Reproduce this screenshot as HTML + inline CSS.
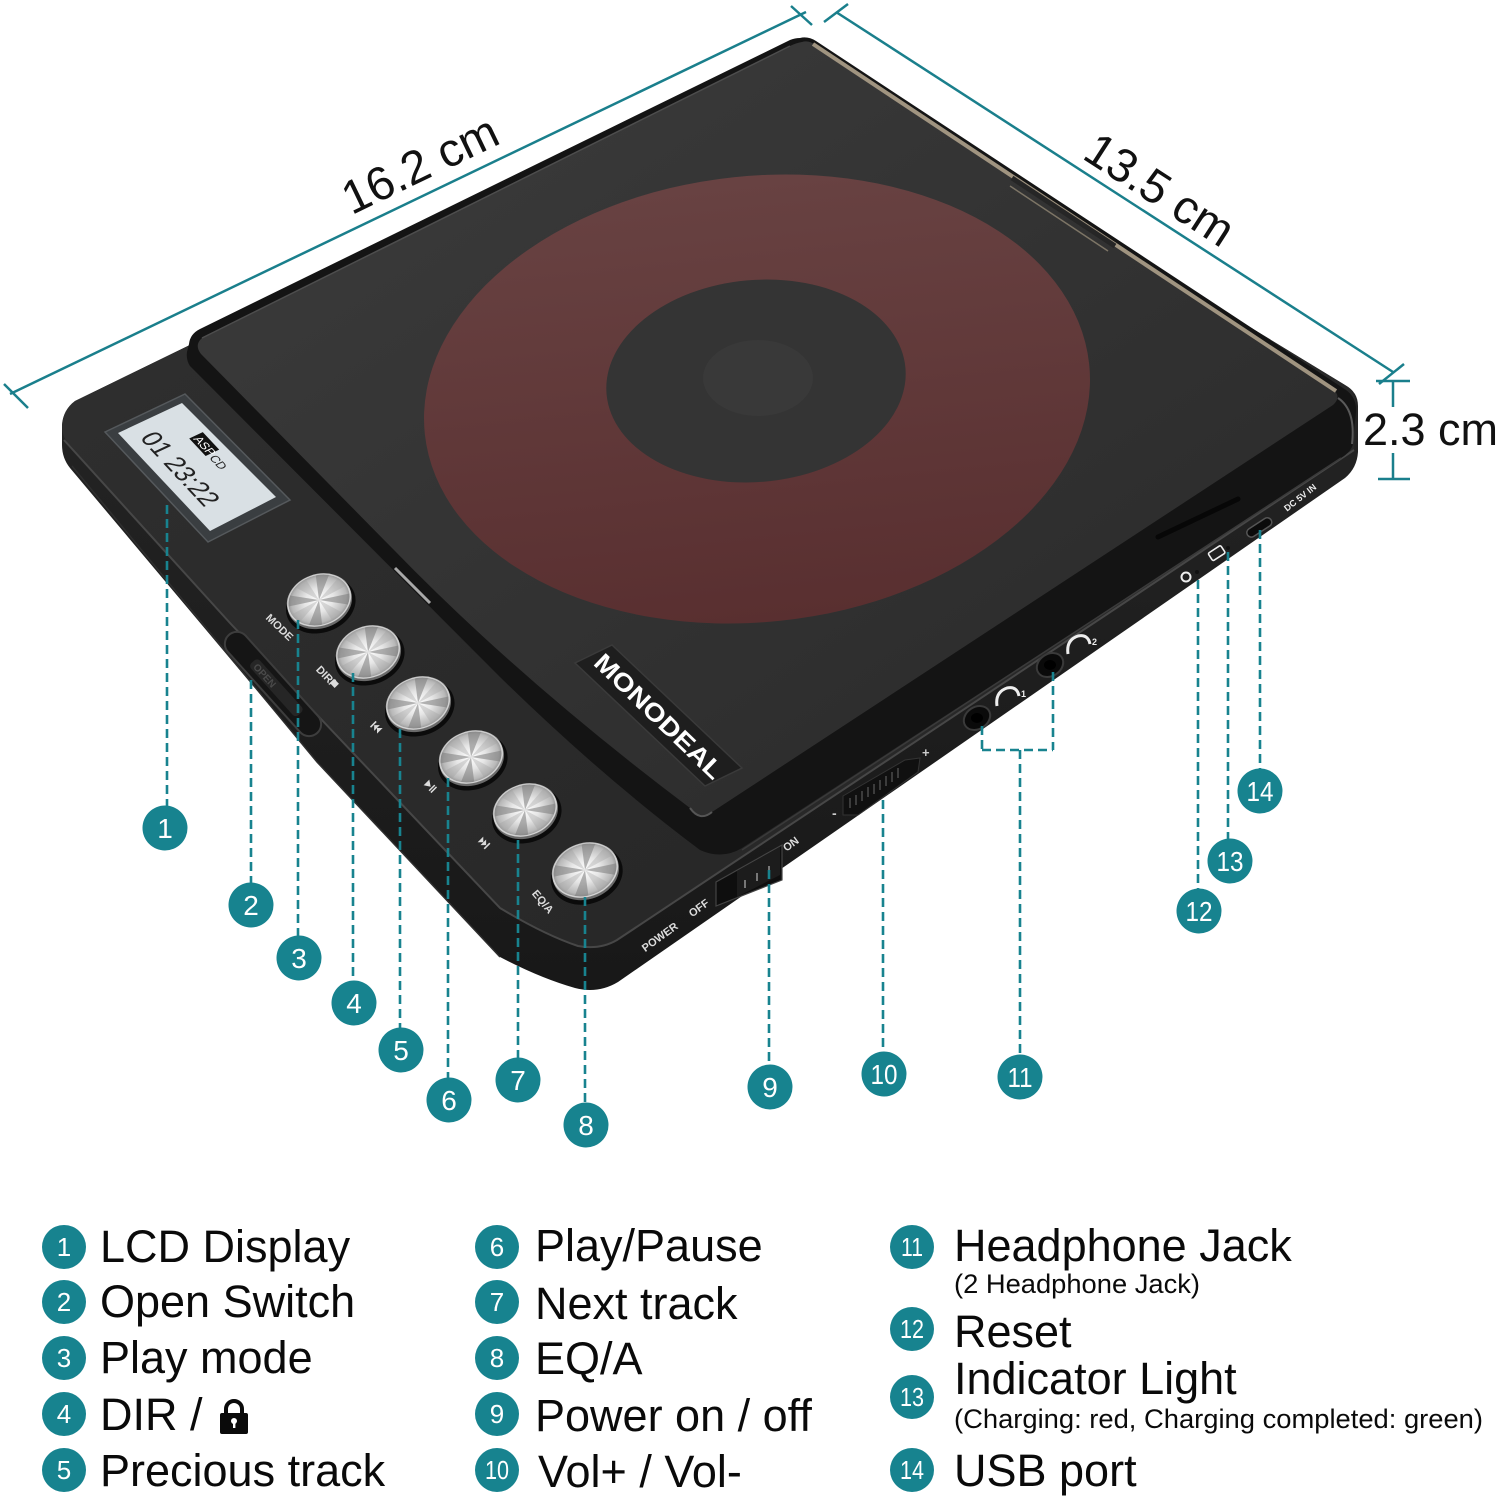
<!DOCTYPE html>
<html><head><meta charset="utf-8"><title>CD player diagram</title>
<style>
html,body{margin:0;padding:0;background:#fff;}
body{width:1500px;height:1496px;position:relative;overflow:hidden;}
svg{position:absolute;left:0;top:0;display:block}
</style></head><body>
<svg width="1500" height="1496" viewBox="0 0 1500 1496" xmlns="http://www.w3.org/2000/svg" font-family="'Liberation Sans', Arial, sans-serif">
<defs>
 <linearGradient id="lidG" x1="0" y1="0" x2="1" y2="1">
  <stop offset="0" stop-color="#3c3c3c"/><stop offset="1" stop-color="#292929"/>
 </linearGradient>
 <linearGradient id="ringG" x1="0" y1="0" x2="0" y2="1">
  <stop offset="0" stop-color="#684242"/><stop offset="1" stop-color="#592f30"/>
 </linearGradient>
 <linearGradient id="baseTop" x1="0" y1="0" x2="1" y2="1">
  <stop offset="0" stop-color="#303030"/><stop offset="1" stop-color="#252525"/>
 </linearGradient>
 <linearGradient id="baseSide" x1="0" y1="0" x2="0" y2="1">
  <stop offset="0" stop-color="#2a2a2a"/><stop offset="1" stop-color="#181818"/>
 </linearGradient>
 <radialGradient id="bface" cx="0" cy="0" r="1" gradientUnits="userSpaceOnUse">
  <stop offset="0" stop-color="#ffffff"/><stop offset=".45" stop-color="#e6e6e6"/><stop offset=".85" stop-color="#b8b8b8"/><stop offset="1" stop-color="#8c8c8c"/>
 </radialGradient>
 <g id="btn">
  <ellipse cx="0" cy="0.2" rx="1.08" ry="1.06" fill="#0b0b0b"/>
  <ellipse cx="0" cy="0.09" rx="1" ry="1" fill="#6a6a6a"/>
  <circle r="0.97" fill="url(#bface)"/>
  <path d="M0 0L.936 .165A.95 .95 0 0 1 .778 .545Z M0 0L-.165 .936A.95 .95 0 0 1 -.545 .778Z M0 0L-.936 -.165A.95 .95 0 0 1 -.778 -.545Z M0 0L.165 -.936A.95 .95 0 0 1 .545 -.778Z" fill="#7a7a7a" opacity=".55"/>
  <path d="M0 0L.545 .778A.95 .95 0 0 1 .165 .936Z M0 0L-.778 .545A.95 .95 0 0 1 -.936 .165Z M0 0L-.545 -.778A.95 .95 0 0 1 -.165 -.936Z M0 0L.778 -.545A.95 .95 0 0 1 .936 -.165Z" fill="#a0a0a0" opacity=".35"/>
  <circle r="0.97" fill="none" stroke="#f4f4f4" stroke-width="0.05" opacity=".7"/>
 </g>
</defs>

<rect width="1500" height="1496" fill="#ffffff"/>

<!-- ===== Dimension lines ===== -->
<g stroke="#1a7f8c" stroke-width="2.5" fill="none" stroke-linecap="butt">
 <line x1="10" y1="394" x2="806" y2="12"/>
 <line x1="4" y1="384" x2="28" y2="408"/>
 <line x1="791" y1="6" x2="812" y2="25"/>
 <line x1="836" y1="12" x2="1393" y2="372"/>
 <line x1="824" y1="22" x2="848" y2="4"/>
 <line x1="1379" y1="384" x2="1404" y2="364"/>
 <line x1="1376" y1="381" x2="1410" y2="381"/>
 <line x1="1393" y1="381" x2="1393" y2="407"/>
 <line x1="1393" y1="453" x2="1393" y2="479"/>
 <line x1="1378" y1="479" x2="1410" y2="479"/>
</g>
<text transform="translate(427,179) rotate(-25.7)" text-anchor="middle" font-size="47" fill="#111">16.2 cm</text>
<text transform="translate(1151,203) rotate(32.9)" text-anchor="middle" font-size="47" fill="#111">13.5 cm</text>
<text x="1363" y="445" font-size="45" fill="#111">2.3 cm</text>

<!-- ===== Device base ===== -->
<path d="M75,401 L795,50 L1345,385 Q1358,392 1358,406 L1358,452 Q1357,468 1345,478 L618,982 Q598,994 575,988 Q540,978 500,957 L317,762 L70,468 Q62,458 62,445 L62,425 Q63,410 75,401 Z" fill="url(#baseSide)"/>
<path d="M75,401 L795,50 L1345,385 Q1356,392 1356,406 L1354,450 L617,940 Q597,952 575,946 Q540,930 500,908 L230,623 L66,441 Q62,434 62,426 Q63,410 75,401 Z" fill="url(#baseTop)"/>
<path d="M64,440 L230,623 L500,908 Q545,935 578,946 Q600,950 617,940 L1354,450" fill="none" stroke="#474747" stroke-width="2"/>
<path d="M72,466 L317,762 L500,957" fill="none" stroke="#2e2e2e" stroke-width="1.5"/>

<!-- LCD -->
<polygon points="105,432 185,394 290,500 208,542" fill="#3a3e41" stroke="#55595c" stroke-width="1.5"/>
<polygon points="118,433 182,403 276,497 210,531" fill="#d9e0e4"/>
<g transform="matrix(0.684,0.729,-0.905,0.424,182,403)">
 <rect x="37" y="5" width="24" height="15" fill="#111"/>
 <text x="39" y="17.5" font-size="12" fill="#fff">ASP</text>
 <text x="64" y="19" font-size="12" fill="#222">CD</text>
 <text x="14" y="58" font-size="27" fill="#222" textLength="96" lengthAdjust="spacingAndGlyphs">01 23:22</text>
</g>

<!-- Open switch -->
<g transform="translate(273,684) rotate(48)">
 <rect x="-66" y="-12" width="132" height="24" rx="12" fill="#151515" stroke="#3d3d3d" stroke-width="2"/>
 <rect x="-30" y="-6" width="70" height="12" rx="4" fill="#262626"/>
 <text x="-26" y="4" font-size="10" font-weight="bold" fill="#4a4a4a">OPEN</text>
</g>

<!-- ===== Lid ===== -->
<path d="M800,38 Q808,36 816,41 L1346,390 Q1357,398 1356,412 L1353,444 Q1351,452 1341,458 L742,848 Q722,860 700,850 Q600,775 500,677 L190,366 Q186,360 187,352 L189,344 Q190,334 200,329 L790,40 Q795,38 800,38 Z" fill="#141414"/>
<path d="M802,42 Q809,40 815,45 L1333,389 Q1342,397 1333,405 L712,812 Q700,820 690,808 Q520,680 393,549 L201,354 Q194,345 202,338 L790,46 Q796,43 802,42 Z" fill="url(#lidG)"/>
<!-- lid edge highlights -->
<path d="M813,44 L1336,391" stroke="#a09480" stroke-width="4" fill="none"/>
<path d="M1012,178 L1115,246" stroke="#262626" stroke-width="5" fill="none"/>
<path d="M1010,186 L1108,251" stroke="#7d7566" stroke-width="1.5" fill="none"/>
<path d="M202,338 L790,46" stroke="#4d4d4d" stroke-width="1.5" fill="none"/>
<path d="M1338,398 Q1356,410 1352,444" stroke="#5a5a5a" stroke-width="2" fill="none"/>
<path d="M742,850 L1341,458" stroke="#3a3a3a" stroke-width="1.5" fill="none"/>
<path d="M690,808 Q700,822 712,812" stroke="#555" stroke-width="2" fill="none"/>
<path d="M395,568 L430,603" stroke="#a8a8a8" stroke-width="3" fill="none"/>
<path d="M1158,537 L1238,499" stroke="#070707" stroke-width="5" fill="none" stroke-linecap="round"/>

<!-- Disc ring -->
<ellipse cx="757" cy="399" rx="334" ry="223" fill="url(#ringG)" transform="rotate(-6 757 399)"/>
<ellipse cx="756" cy="381" rx="150" ry="101" fill="#343434" transform="rotate(-5 756 381)"/>
<ellipse cx="758" cy="378" rx="55" ry="38" fill="#393939"/>

<!-- MONODEAL logo -->
<polygon points="575,663 612,645 742,768 705,786" fill="#1e1e1e" stroke="#3a3a3a" stroke-width="1.5"/>
<text transform="translate(659,716) rotate(44)" x="0" y="9" text-anchor="middle" font-size="25" font-weight="bold" fill="#fff" textLength="168" lengthAdjust="spacingAndGlyphs">MONODEAL</text>

<!-- Buttons -->
<use href="#btn" transform="translate(319,600) rotate(-20) scale(33,26)"/>
<use href="#btn" transform="translate(368,652) rotate(-20) scale(33,26)"/>
<use href="#btn" transform="translate(418,703) rotate(-20) scale(33,26)"/>
<use href="#btn" transform="translate(471,757) rotate(-20) scale(33,26)"/>
<use href="#btn" transform="translate(525,810) rotate(-20) scale(33,26)"/>
<use href="#btn" transform="translate(585,870) rotate(-20) scale(34,27)"/>

<!-- Button labels -->
<g font-size="11" font-weight="bold" fill="#dcdcdc" text-anchor="middle">
 <text transform="translate(277,630) rotate(44)">MODE</text>
 <text transform="translate(323,678) rotate(46)">DIR/</text>
 <rect x="331" y="680" width="7" height="6" fill="#dcdcdc" transform="rotate(46 334 683)"/>
 <text transform="translate(540,904) rotate(50)">EQ/A</text>
 <text transform="translate(662,940) rotate(-36)">POWER</text>
 <text transform="translate(701,911) rotate(-36)">OFF</text>
 <text transform="translate(793,847) rotate(-36)">ON</text>
</g>
<g fill="#dcdcdc">
 <g transform="translate(377,728) rotate(45)">
  <rect x="-6" y="-4" width="1.6" height="8"/><polygon points="-4,0 0,-4 0,4"/><polygon points="0,0 4,-4 4,4"/>
 </g>
 <g transform="translate(430,786) rotate(45)">
  <polygon points="-5,-4 -5,4 1,0"/><rect x="2" y="-4" width="1.5" height="8"/><rect x="4.5" y="-4" width="1.5" height="8"/>
 </g>
 <g transform="translate(484,843) rotate(45)">
  <polygon points="-5,-4 -1,0 -5,4"/><polygon points="-1,-4 3,0 -1,4"/><rect x="3.5" y="-4" width="1.6" height="8"/>
 </g>
</g>

<!-- Power switch -->
<polygon points="716,882 782,845 782,880 716,906" fill="#0e0e0e" stroke="#444" stroke-width="1.2"/>
<polygon points="737,871 780,847 780,875 737,897" fill="#1c1c1c"/>
<g stroke="#777" stroke-width="2" fill="none">
 <path d="M745,880 v8"/><path d="M757,873 v8"/><path d="M769,866 v8"/>
</g>

<!-- Volume wheel -->
<polygon points="843,796 905,760 920,758 918,772 858,815 843,815" fill="#101010" stroke="#333" stroke-width="1"/>
<g stroke="#4a4a4a" stroke-width="1.5">
 <path d="M850,808 v-10"/><path d="M856,805 v-10"/><path d="M862,801 v-10"/><path d="M868,797 v-10"/><path d="M874,794 v-10"/><path d="M880,790 v-10"/><path d="M886,786 v-10"/><path d="M892,782 v-10"/><path d="M898,778 v-10"/>
</g>
<text x="832" y="818" font-size="14" font-weight="bold" fill="#ccc">-</text>
<text x="922" y="757" font-size="13" font-weight="bold" fill="#ccc">+</text>

<!-- Headphone jacks -->
<ellipse cx="977" cy="718" rx="14" ry="11" fill="#0a0a0a" stroke="#3a3a3a" stroke-width="2" transform="rotate(-33 977 718)"/>
<ellipse cx="977" cy="718" rx="6" ry="5" fill="#000"/>
<ellipse cx="1050" cy="665" rx="14" ry="11" fill="#0a0a0a" stroke="#3a3a3a" stroke-width="2" transform="rotate(-33 1050 665)"/>
<ellipse cx="1050" cy="665" rx="6" ry="5" fill="#000"/>
<g stroke="#eee" stroke-width="3" fill="none">
 <path d="M997,706 q-2,-14 10,-18 q10,-2 12,8" />
 <path d="M1068,654 q-2,-14 10,-18 q10,-2 12,8" />
</g>
<text x="1021" y="697" font-size="9" fill="#eee" font-weight="bold">1</text>
<text x="1092" y="645" font-size="9" fill="#eee" font-weight="bold">2</text>

<!-- Reset / indicator / USB / DC -->
<circle cx="1186" cy="577" r="4.5" fill="none" stroke="#eee" stroke-width="2"/>
<circle cx="1197" cy="572" r="2" fill="#111"/>
<rect x="1209" y="549" width="15" height="9" rx="1.5" fill="none" stroke="#eee" stroke-width="1.6" transform="rotate(-33 1216 553)"/>
<circle cx="1228" cy="548" r="2" fill="#111"/>
<rect x="1245" y="523" width="28" height="9" rx="4.5" fill="#0b0b0b" stroke="#555" stroke-width="1.5" transform="rotate(-33 1259 527)"/>
<text transform="translate(1302,500) rotate(-38)" text-anchor="middle" font-size="9" font-weight="bold" fill="#eee">DC 5V IN</text>

<!-- ===== Callout dashed lines ===== -->
<g stroke="#18838f" stroke-width="2.6" stroke-dasharray="9 5" fill="none">
 <line x1="167" y1="505" x2="167" y2="806"/>
 <line x1="251" y1="680" x2="251" y2="883"/>
 <line x1="298" y1="620" x2="298" y2="936"/>
 <line x1="353" y1="673" x2="353" y2="981"/>
 <line x1="400" y1="729" x2="400" y2="1028"/>
 <line x1="448" y1="778" x2="448" y2="1078"/>
 <line x1="518" y1="840" x2="518" y2="1058"/>
 <line x1="585" y1="897" x2="585" y2="1103"/>
 <line x1="769" y1="870" x2="769" y2="1065"/>
 <line x1="883" y1="800" x2="883" y2="1052"/>
 <line x1="982" y1="726" x2="982" y2="750"/>
 <line x1="1053" y1="672" x2="1053" y2="750"/>
 <line x1="982" y1="750" x2="1053" y2="750"/>
 <line x1="1020" y1="750" x2="1020" y2="1055"/>
 <line x1="1198" y1="580" x2="1198" y2="889"/>
 <line x1="1228" y1="552" x2="1228" y2="839"/>
 <line x1="1260" y1="530" x2="1260" y2="769"/>
</g>

<!-- ===== Callout circles ===== -->
<g fill="#17838f">
 <circle cx="165" cy="828" r="22.5"/>
 <circle cx="251" cy="905" r="22.5"/>
 <circle cx="299" cy="958" r="22.5"/>
 <circle cx="354" cy="1003" r="22.5"/>
 <circle cx="401" cy="1050" r="22.5"/>
 <circle cx="449" cy="1100" r="22.5"/>
 <circle cx="518" cy="1080" r="22.5"/>
 <circle cx="586" cy="1125" r="22.5"/>
 <circle cx="770" cy="1087" r="22.5"/>
 <circle cx="884" cy="1074" r="22.5"/>
 <circle cx="1020" cy="1077" r="22.5"/>
 <circle cx="1199" cy="911" r="22.5"/>
 <circle cx="1230" cy="861" r="22.5"/>
 <circle cx="1260" cy="791" r="22.5"/>
</g>
<g fill="#ffffff" font-size="28" text-anchor="middle">
 <text x="165" y="838">1</text>
 <text x="251" y="915">2</text>
 <text x="299" y="968">3</text>
 <text x="354" y="1013">4</text>
 <text x="401" y="1060">5</text>
 <text x="449" y="1110">6</text>
 <text x="518" y="1090">7</text>
 <text x="586" y="1135">8</text>
 <text x="770" y="1097">9</text>
 <text x="884" y="1084" textLength="27" lengthAdjust="spacingAndGlyphs">10</text>
 <text x="1020" y="1087" textLength="25" lengthAdjust="spacingAndGlyphs">11</text>
 <text x="1199" y="921" textLength="27" lengthAdjust="spacingAndGlyphs">12</text>
 <text x="1230" y="871" textLength="27" lengthAdjust="spacingAndGlyphs">13</text>
 <text x="1260" y="801" textLength="27" lengthAdjust="spacingAndGlyphs">14</text>
</g>

<!-- ===== Legend ===== -->
<g fill="#17838f">
 <circle cx="64" cy="1247" r="22"/><circle cx="64" cy="1302" r="22"/><circle cx="64" cy="1358" r="22"/><circle cx="64" cy="1414" r="22"/><circle cx="64" cy="1470" r="22"/>
 <circle cx="497" cy="1247" r="22"/><circle cx="497" cy="1302" r="22"/><circle cx="497" cy="1358" r="22"/><circle cx="497" cy="1414" r="22"/><circle cx="497" cy="1470" r="22"/>
 <circle cx="912" cy="1247" r="22"/><circle cx="912" cy="1329" r="22"/><circle cx="912" cy="1397" r="22"/><circle cx="912" cy="1470" r="22"/>
</g>
<g fill="#ffffff" font-size="26" text-anchor="middle">
 <text x="64" y="1256">1</text><text x="64" y="1311">2</text><text x="64" y="1367">3</text><text x="64" y="1423">4</text><text x="64" y="1479">5</text>
 <text x="497" y="1256">6</text><text x="497" y="1311">7</text><text x="497" y="1367">8</text><text x="497" y="1423">9</text>
 <text x="497" y="1479" textLength="24" lengthAdjust="spacingAndGlyphs">10</text>
 <text x="912" y="1256" textLength="22" lengthAdjust="spacingAndGlyphs">11</text>
 <text x="912" y="1338" textLength="24" lengthAdjust="spacingAndGlyphs">12</text>
 <text x="912" y="1406" textLength="24" lengthAdjust="spacingAndGlyphs">13</text>
 <text x="912" y="1479" textLength="24" lengthAdjust="spacingAndGlyphs">14</text>
</g>
<g fill="#0a0a0a" font-size="45">
 <text x="100" y="1262">LCD Display</text>
 <text x="100" y="1317">Open Switch</text>
 <text x="100" y="1373">Play mode</text>
 <text x="100" y="1430">DIR /</text>
 <text x="100" y="1486">Precious track</text>
 <text x="535" y="1261">Play/Pause</text>
 <text x="535" y="1319">Next track</text>
 <text x="535" y="1374">EQ/A</text>
 <text x="535" y="1431">Power on / off</text>
 <text x="538" y="1487">Vol+ / Vol-</text>
 <text x="954" y="1261">Headphone Jack</text>
 <text x="954" y="1347">Reset</text>
 <text x="954" y="1394">Indicator Light</text>
 <text x="954" y="1486">USB port</text>
</g>
<g fill="#0a0a0a" font-size="27">
 <text x="954" y="1293" textLength="246" lengthAdjust="spacingAndGlyphs">(2 Headphone Jack)</text>
 <text x="954" y="1428" textLength="529" lengthAdjust="spacingAndGlyphs">(Charging: red, Charging completed: green)</text>
</g>
<!-- lock icon -->
<path d="M226,1415 v-6 a8,8 0 0 1 16,0 v6" fill="none" stroke="#0a0a0a" stroke-width="4"/>
<rect x="220" y="1413" width="28" height="21" rx="2" fill="#0a0a0a"/>
<circle cx="234" cy="1421" r="3" fill="#fff"/>
<rect x="233" y="1421" width="2.4" height="7" fill="#fff"/>
</svg>
</body></html>
